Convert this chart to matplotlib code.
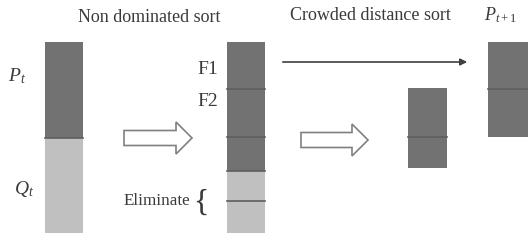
"""NSGA-II selection diagram: non dominated sort followed by crowded distance sort."""

import matplotlib
matplotlib.use("Agg")
import matplotlib.pyplot as plt
import matplotlib.patches as mpatches

plt.rcParams["font.family"] = "Liberation Serif"
plt.rcParams["mathtext.fontset"] = "custom"
plt.rcParams["mathtext.it"] = "Liberation Serif:italic"
plt.rcParams["mathtext.rm"] = "Liberation Serif"

DARK = "#727272"
LIGHT = "#c0c0c0"
EDGE = "#5e5e5e"
TEXT = "#3a3a3a"

# Population columns: x range and segment boundaries (top to bottom) with shades
col_x = [(45, 83), (227, 265), (408, 447), (488, 535)]
col_edges = [
    [42, 138, 233],
    [42, 89, 137, 171, 201, 233],
    [88, 137, 168],
    [42, 89, 137],
]
col_shades = [
    [DARK, LIGHT],
    [DARK, DARK, DARK, LIGHT, LIGHT],
    [DARK, DARK],
    [DARK, DARK],
]

# Labels: text, x, y, size, alignment
labels = [
    ("Non dominated sort", 149, 18, 13, "center"),
    ("Crowded distance sort", 370, 16, 13, "center"),
    ("F1", 218, 69, 14, "right"),
    ("F2", 218, 101, 14, "right"),
    ("Eliminate", 190, 201, 12.3, "right"),
    ("$P_t$", 8, 76, 14, "left"),
    ("$Q_t$", 14, 189, 14, "left"),
    ("$P_{t+1}$", 484, 15, 13, "left"),
]

# Hollow arrows: tail x, tip x, centre y
hollow_arrows = [(124, 192, 138), (301, 368, 140)]

fig = plt.figure(figsize=(5.28, 2.41), dpi=100)
ax = fig.add_axes([0, 0, 1, 1])
ax.set_xlim(0, 528)
ax.set_ylim(241, 0)
ax.axis("off")

for (x0, x1), edges, shades in zip(col_x, col_edges, col_shades):
    for top, bottom, shade in zip(edges[:-1], edges[1:], shades):
        ax.add_patch(mpatches.Rectangle((x0, top), x1 - x0, bottom - top,
                                        facecolor=shade, edgecolor="none"))
    for y in edges[1:-1]:
        ax.plot([x0, x1], [y, y], color=EDGE, linewidth=1.2)

for text, x, y, size, ha in labels:
    ax.text(x, y, text, fontsize=size, ha=ha, va="center", color=TEXT)

# Brace next to "Eliminate"
ax.text(193, 203, "{", fontsize=23, ha="left", va="center", color=TEXT,
        fontweight="light")

for x0, x1, y in hollow_arrows:
    ax.add_patch(mpatches.FancyArrow(
        x0, y, x1 - x0, 0, width=15, head_width=32, head_length=16,
        length_includes_head=True, facecolor="white", edgecolor="#808080",
        linewidth=1.2))

# Long arrow straight to the next population
ax.annotate("", xy=(470, 62), xytext=(280, 62),
            arrowprops=dict(arrowstyle="-|>", color="#404040", lw=1.2,
                            mutation_scale=10))

fig.savefig("out.png", dpi=100)
